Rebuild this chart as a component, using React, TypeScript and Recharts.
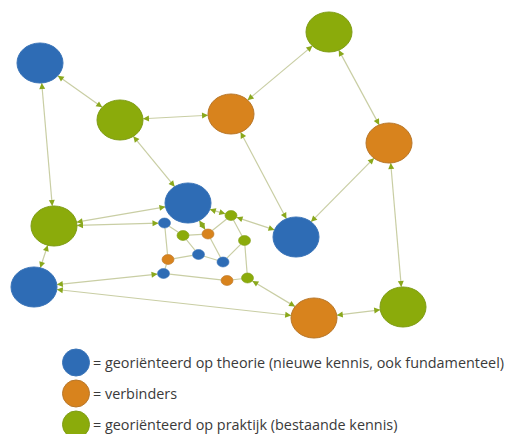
import React from "react";
import { Legend, Scatter, ScatterChart, XAxis, YAxis } from "recharts";

// knooppunten: T = theorie, V = verbinder, P = praktijk
const nodeNames = [
  "T1", "P1", "V1", "P2", "V2", "T2", "P3", "T3", "T4", "V3", "P4",
  "t1", "p1", "v1", "p2", "p3", "t2", "t3", "v2", "t4", "v3", "p4",
];
const nodeX = [
  40, 120, 231, 329, 389, 188, 54, 34, 296, 314, 403,
  164.5, 183, 208, 231, 244.5, 198.5, 223, 168, 163.5, 227, 247.5,
];
const nodeY = [
  63, 120, 114, 32, 143, 203, 226, 287, 237, 318, 307,
  223, 235.5, 234, 215.5, 240.5, 254.5, 262, 259.5, 273.5, 280.5, 278,
];
const nodeGroup = [
  "theorie", "praktijk", "verbinder", "praktijk", "verbinder", "theorie",
  "praktijk", "theorie", "theorie", "verbinder", "praktijk",
  "theorie", "praktijk", "verbinder", "praktijk", "praktijk", "theorie",
  "theorie", "verbinder", "theorie", "verbinder", "praktijk",
];
const nodeBig = [
  true, true, true, true, true, true, true, true, true, true, true,
  false, false, false, false, false, false, false, false, false, false, false,
];

const edges: [string, string][] = [
  ["T1", "P1"], ["P1", "V1"], ["V1", "P2"], ["P2", "V2"], ["T1", "P3"],
  ["P1", "T2"], ["V1", "T4"], ["V2", "T4"], ["V2", "P4"], ["P3", "T2"],
  ["P3", "t1"], ["P3", "T3"], ["T3", "t4"], ["T3", "V3"], ["V3", "P4"],
  ["p4", "V3"], ["p2", "T4"], ["p2", "T2"], ["v1", "T2"],
  ["t1", "p1"], ["p1", "v1"], ["v1", "p2"], ["p2", "p3"], ["p1", "t2"],
  ["t2", "t3"], ["t3", "p3"], ["t1", "v2"], ["v2", "t2"], ["v2", "t4"],
  ["p3", "p4"], ["t4", "v3"], ["v3", "p4"], ["v1", "t3"],
];

const legendLabels = [
  "= georiënteerd op theorie (nieuwe kennis, ook fundamenteel)",
  "= verbinders",
  "= georiënteerd op praktijk (bestaande kennis)",
];
const legendGroups = ["theorie", "verbinder", "praktijk"];

const fills: Record<string, string> = {
  theorie: "#2e6cb5",
  verbinder: "#d8831d",
  praktijk: "#8bab0b",
};
const strokes: Record<string, string> = {
  theorie: "#3a74b8",
  verbinder: "#b8772a",
  praktijk: "#7f9d16",
};

const radius = (big: boolean) => (big ? { rx: 23, ry: 20 } : { rx: 6, ry: 5 });

const nodes = nodeNames.map((name, i) => ({
  name,
  x: nodeX[i],
  y: nodeY[i],
  group: nodeGroup[i],
  big: nodeBig[i],
}));
const byName = (n: string) => nodes[nodeNames.indexOf(n)];

// punt op de rand van de ellips richting (dx, dy)
const rim = (node: any, dx: number, dy: number) => {
  const { rx, ry } = radius(node.big);
  const t = 1 / Math.sqrt((dx / rx) ** 2 + (dy / ry) ** 2);
  return { x: node.x + dx * t, y: node.y + dy * t };
};

const edgeData = edges.map(([a, b]) => {
  const na = byName(a);
  const nb = byName(b);
  const dx = nb.x - na.x;
  const dy = nb.y - na.y;
  const arrow = na.big || nb.big;
  const pa = rim(na, dx, dy);
  const pb = rim(nb, -dx, -dy);
  return [
    { ...pa, angle: Math.atan2(-dy, -dx), arrow },
    { ...pb, angle: Math.atan2(dy, dx), arrow },
  ];
});

const ArrowHead = (props: any) => {
  const { cx, cy, payload } = props;
  if (!payload.arrow) return <g />;
  const a = payload.angle;
  const len = 6;
  const half = 3;
  const bx = cx - Math.cos(a) * len;
  const by = cy - Math.sin(a) * len;
  const px = -Math.sin(a) * half;
  const py = Math.cos(a) * half;
  return (
    <polygon
      points={`${cx},${cy} ${bx + px},${by + py} ${bx - px},${by - py}`}
      fill="#8aa81c"
    />
  );
};

const NodeShape = (props: any) => {
  const { cx, cy, payload } = props;
  const { rx, ry } = radius(payload.big);
  return (
    <ellipse
      cx={cx}
      cy={cy}
      rx={rx}
      ry={ry}
      fill={fills[payload.group]}
      stroke={strokes[payload.group]}
      strokeWidth={payload.big ? 1 : 0.6}
    />
  );
};

const LegendContent = () => (
  <div style={{ fontFamily: "'Open Sans', sans-serif", fontSize: 14.4, color: "#3a3a3a" }}>
    {legendLabels.map((label, i) => (
      <div key={label} style={{ display: "flex", alignItems: "center", height: 31 }}>
        <svg width={30} height={29} style={{ marginRight: 2 }}>
          <ellipse
            cx={15}
            cy={14.5}
            rx={13.5}
            ry={13.5}
            fill={fills[legendGroups[i]]}
            stroke={strokes[legendGroups[i]]}
          />
        </svg>
        <span style={{ whiteSpace: "nowrap" }}>{label}</span>
      </div>
    ))}
  </div>
);

export default function App() {
  return (
    <div style={{ position: "absolute", left: 0, top: 0, background: "#fff" }}>
      <ScatterChart width={511} height={434} margin={{ top: 0, right: 0, bottom: 0, left: 0 }}>
        <XAxis type="number" dataKey="x" domain={[0, 511]} hide />
        <YAxis type="number" dataKey="y" domain={[0, 434]} reversed hide />
        {edgeData.map((d, i) => (
          <Scatter
            key={`edge-${i}`}
            data={d}
            line={{ stroke: "#c9cea4", strokeWidth: 1.2 }}
            shape={ArrowHead}
            isAnimationActive={false}
            legendType="none"
          />
        ))}
        <Scatter data={nodes} shape={NodeShape} isAnimationActive={false} legendType="none" />
        <Legend
          layout="vertical"
          align="center"
          verticalAlign="middle"
          content={LegendContent}
          wrapperStyle={{ left: 61, top: 347, width: 450 }}
        />
      </ScatterChart>
    </div>
  );
}
